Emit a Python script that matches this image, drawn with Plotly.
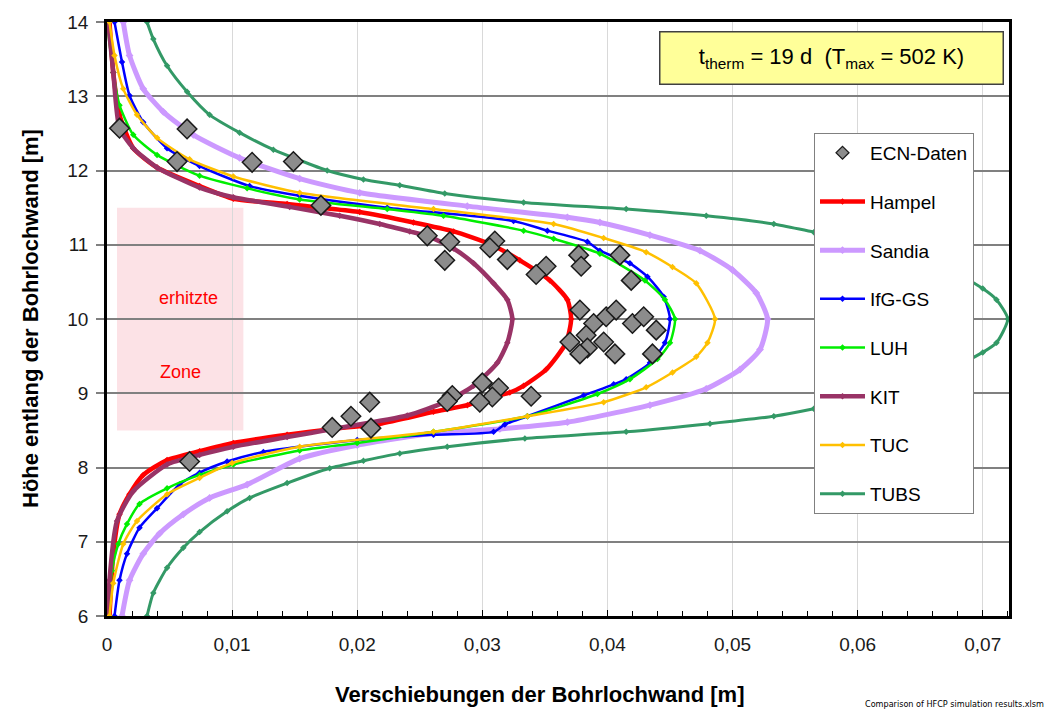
import plotly.graph_objects as go

# --- Verschiebungsprofile der Bohrlochwand (x in m, Höhe in m) ---
hampel_x = [0.0002, 0.0005, 0.0010, 0.0018, 0.0029, 0.0048, 0.0074, 0.0101, 0.0144, 0.0181,
            0.0218, 0.0261, 0.0288, 0.0301, 0.0322, 0.0333, 0.0351, 0.0367, 0.0371, 0.0368,
            0.0354, 0.0330, 0.0306, 0.0277, 0.0245, 0.0202, 0.0170, 0.0144, 0.0101, 0.0074,
            0.0040, 0.0021, 0.0010, 0.0005, 0.0002]
hampel_y = [6.00, 6.84, 7.37, 7.64, 7.90, 8.10, 8.22, 8.33, 8.44, 8.52,
            8.59, 8.75, 8.84, 8.92, 9.01, 9.10, 9.32, 9.68, 10.00, 10.26,
            10.52, 10.79, 11.01, 11.18, 11.30, 11.44, 11.50, 11.55, 11.62, 11.79,
            12.04, 12.30, 12.75, 13.32, 14.00]

sandia_x = [0.0012, 0.0018, 0.0029, 0.0042, 0.0061, 0.0082, 0.0112, 0.0154, 0.0200, 0.0261,
            0.0314, 0.0368, 0.0434, 0.0479, 0.0506, 0.0522, 0.0528, 0.0519, 0.0500, 0.0474,
            0.0434, 0.0394, 0.0368, 0.0288, 0.0202, 0.0154, 0.0106, 0.0069, 0.0045, 0.0029,
            0.0018, 0.0013]
sandia_y = [6.00, 6.48, 6.84, 7.11, 7.37, 7.59, 7.77, 8.12, 8.30, 8.46,
            8.52, 8.61, 8.84, 9.06, 9.32, 9.59, 10.00, 10.35, 10.66, 10.92,
            11.13, 11.30, 11.37, 11.52, 11.70, 11.89, 12.17, 12.48, 12.79, 13.10,
            13.55, 14.00]

ifg_x = [0.0006, 0.0010, 0.0016, 0.0026, 0.0040, 0.0058, 0.0074, 0.0096, 0.0125, 0.0200,
         0.0261, 0.0309, 0.0318, 0.0336, 0.0381, 0.0405, 0.0415, 0.0434, 0.0446, 0.0450,
         0.0445, 0.0432, 0.0418, 0.0394, 0.0384, 0.0352, 0.0325, 0.0224, 0.0154, 0.0114,
         0.0074, 0.0048, 0.0029, 0.0018, 0.0012, 0.0006]
ifg_y = [6.00, 6.48, 6.84, 7.19, 7.45, 7.77, 7.93, 8.08, 8.21, 8.37,
         8.44, 8.48, 8.58, 8.69, 8.97, 9.12, 9.19, 9.41, 9.68, 10.00,
         10.30, 10.57, 10.75, 10.92, 11.04, 11.19, 11.32, 11.50, 11.66, 11.79,
         12.06, 12.30, 12.65, 13.01, 13.46, 14.00]

luh_x = [0.0001, 0.0004, 0.0009, 0.0016, 0.0026, 0.0048, 0.0074, 0.0101, 0.0154, 0.0200,
         0.0261, 0.0336, 0.0392, 0.0418, 0.0440, 0.0450, 0.0454, 0.0446, 0.0430, 0.0394,
         0.0357, 0.0333, 0.0269, 0.0224, 0.0154, 0.0112, 0.0074, 0.0040, 0.0021, 0.0010,
         0.0005, 0.0000]
luh_y = [6.00, 6.61, 6.97, 7.24, 7.51, 7.72, 7.90, 8.04, 8.23, 8.33,
         8.48, 8.69, 8.99, 9.19, 9.46, 9.68, 10.00, 10.26, 10.52, 10.88,
         11.08, 11.19, 11.39, 11.48, 11.61, 11.76, 11.93, 12.21, 12.48, 12.88,
         13.32, 14.00]

kit_x = [0.0001, 0.0002, 0.0008, 0.0021, 0.0048, 0.0074, 0.0101, 0.0144, 0.0181, 0.0240,
         0.0270, 0.0293, 0.0312, 0.0320, 0.0324, 0.0320, 0.0309, 0.0293, 0.0277, 0.0256,
         0.0242, 0.0218, 0.0186, 0.0146, 0.0101, 0.0074, 0.0040, 0.0021, 0.0010, 0.0005,
         0.0001]
kit_y = [6.00, 6.48, 7.28, 7.68, 8.04, 8.17, 8.28, 8.41, 8.52, 8.70,
         8.88, 9.10, 9.41, 9.68, 10.00, 10.26, 10.48, 10.75, 10.95, 11.12,
         11.18, 11.28, 11.39, 11.51, 11.64, 11.77, 12.04, 12.30, 12.57, 13.32,
         14.00]

tuc_x = [0.0002, 0.0005, 0.0013, 0.0024, 0.0048, 0.0074, 0.0100, 0.0154, 0.0261, 0.0336,
         0.0397, 0.0431, 0.0452, 0.0471, 0.0480, 0.0486, 0.0471, 0.0452, 0.0431, 0.0397,
         0.0357, 0.0261, 0.0154, 0.0101, 0.0066, 0.0040, 0.0024, 0.0013, 0.0006, 0.0002]
tuc_y = [6.00, 6.44, 6.97, 7.28, 7.64, 7.86, 8.06, 8.28, 8.48, 8.69,
         8.88, 9.08, 9.28, 9.49, 9.68, 10.00, 10.48, 10.70, 10.90, 11.09,
         11.28, 11.48, 11.70, 11.92, 12.15, 12.44, 12.75, 13.10, 13.55, 14.00]

tubs_x = [0.0032, 0.0037, 0.0048, 0.0061, 0.0074, 0.0096, 0.0114, 0.0144, 0.0178, 0.0205,
          0.0234, 0.0272, 0.0334, 0.0415, 0.0482, 0.0533, 0.0565, 0.0620, 0.0665, 0.0700,
          0.0711, 0.0720, 0.0711, 0.0700, 0.0665, 0.0620, 0.0565, 0.0533, 0.0479, 0.0415,
          0.0333, 0.0270, 0.0234, 0.0205, 0.0176, 0.0133, 0.0106, 0.0082, 0.0064, 0.0048,
          0.0037, 0.0032]
tubs_y = [6.00, 6.31, 6.65, 6.92, 7.13, 7.41, 7.59, 7.79, 7.99, 8.09,
          8.19, 8.28, 8.39, 8.48, 8.59, 8.69, 8.79, 9.00, 9.25, 9.55,
          9.68, 10.00, 10.26, 10.41, 10.75, 11.00, 11.17, 11.28, 11.39, 11.48,
          11.57, 11.69, 11.80, 11.88, 12.00, 12.28, 12.51, 12.75, 13.06, 13.41,
          13.77, 14.00]

# ECN-Messdaten
ecn_x = [0.0010, 0.0064, 0.0056, 0.0116, 0.0149, 0.0171, 0.0256, 0.0274, 0.0270, 0.0310,
         0.0306, 0.0320, 0.0351, 0.0343, 0.0377, 0.0379, 0.0410, 0.0419, 0.0378, 0.0389,
         0.0399, 0.0407, 0.0420, 0.0429, 0.0439, 0.0383, 0.0370, 0.0397, 0.0384, 0.0378,
         0.0406, 0.0436, 0.0300, 0.0313, 0.0308, 0.0298, 0.0276, 0.0272, 0.0339, 0.0180,
         0.0195, 0.0210, 0.0211, 0.0066]
ecn_y = [12.57, 12.56, 12.12, 12.11, 12.12, 11.53, 11.12, 11.04, 10.79, 11.05,
         10.96, 10.80, 10.71, 10.60, 10.86, 10.71, 10.86, 10.52, 10.12, 9.94,
         10.03, 10.12, 9.94, 10.03, 9.85, 9.78, 9.69, 9.69, 9.61, 9.53,
         9.53, 9.53, 9.14, 9.07, 8.95, 8.88, 8.97, 8.89, 8.96, 8.54,
         8.69, 8.88, 8.53, 8.08]

x_ticks = [0, 0.01, 0.02, 0.03, 0.04, 0.05, 0.06, 0.07]
x_tick_labels = ["0", "0,01", "0,02", "0,03", "0,04", "0,05", "0,06", "0,07"]
y_ticks = [6, 7, 8, 9, 10, 11, 12, 13, 14]

series = [
    ("Hampel", hampel_x, hampel_y, "#FF0000", 4.5, 5),
    ("Sandia", sandia_x, sandia_y, "#CC99FF", 5, 6),
    ("IfG-GS", ifg_x, ifg_y, "#0000FF", 2.5, 5),
    ("LUH", luh_x, luh_y, "#00EE00", 2.5, 5),
    ("KIT", kit_x, kit_y, "#993366", 4.5, 5),
    ("TUC", tuc_x, tuc_y, "#FFC000", 2.5, 5),
    ("TUBS", tubs_x, tubs_y, "#339966", 3, 5),
]

FONT = "Liberation Sans, Arial, sans-serif"
ECN_FILL = "#8C8C8C"
ECN_EDGE = "#1A1A1A"

fig = go.Figure()

for rank, (name, xs, ys, color, lw, ms) in enumerate(series, start=2):
    fig.add_trace(go.Scatter(
        x=xs, y=ys, mode="lines+markers", name=name, legendgroup=name, legendrank=rank,
        line=dict(color=color, width=lw, shape="spline", smoothing=0.6),
        marker=dict(symbol="diamond", size=ms, color=color),
    ))

# ECN markers drawn on top of the curves
fig.add_trace(go.Scatter(
    x=ecn_x, y=ecn_y, mode="markers", name="ECN-Daten", legendgroup="ecn",
    showlegend=False,
    marker=dict(symbol="diamond", size=15, color=ECN_FILL, line=dict(color=ECN_EDGE, width=1.5)),
    cliponaxis=False,
))
# legend key for the ECN data with a smaller symbol
fig.add_trace(go.Scatter(
    x=[None], y=[None], mode="markers", name="ECN-Daten", legendgroup="ecn", legendrank=1,
    marker=dict(symbol="diamond", size=10, color=ECN_FILL, line=dict(color=ECN_EDGE, width=1.2)),
))

# heated zone
fig.add_shape(type="rect", xref="x", yref="y", x0=0.0008, x1=0.0109, y0=8.5, y1=11.5,
              fillcolor="rgba(248, 180, 188, 0.38)", line=dict(width=0), layer="below")
fig.add_annotation(x=0.0065, y=10.28, xref="x", yref="y", text="erhitzte", showarrow=False,
                   font=dict(family=FONT, size=18, color="#FF0000"))
fig.add_annotation(x=0.0059, y=9.28, xref="x", yref="y", text="Zone", showarrow=False,
                   font=dict(family=FONT, size=18, color="#FF0000"))

# condition box
fig.add_annotation(
    x=(831 - 107) / 902, y=(616 - 52.5) / 600, xref="paper", yref="paper",
    xanchor="center", yanchor="middle",
    text="t<sub>therm</sub> = 19 d  (T<sub>max</sub> = 502 K)", showarrow=False,
    font=dict(family=FONT, size=22, color="#000000"),
    bgcolor="#FFFF99", bordercolor="#404040", borderwidth=1.5,
    width=340, height=49, align="center", valign="middle",
)

# axis titles
fig.add_annotation(x=(540 - 107) / 902, y=(616 - 695) / 600, xref="paper", yref="paper",
                   xanchor="center", yanchor="middle",
                   text="<b>Verschiebungen der Bohrlochwand [m]</b>", showarrow=False,
                   font=dict(family=FONT, size=22, color="#000000"))
fig.add_annotation(x=(30 - 107) / 902, y=(616 - 316) / 600, xref="paper", yref="paper",
                   xanchor="center", yanchor="middle",
                   text="<b>Höhe entlang der Bohrlochwand [m]</b>", showarrow=False,
                   textangle=-90, font=dict(family=FONT, size=22, color="#000000"))
fig.add_annotation(x=(1046 - 107) / 902, y=(616 - 705) / 600, xref="paper", yref="paper",
                   xanchor="right", yanchor="middle",
                   text="Comparison of HFCP simulation results.xlsm", showarrow=False,
                   font=dict(family="Liberation Sans Narrow, DejaVu Sans Condensed, sans-serif",
                             size=9, color="#000000"))

fig.update_layout(
    width=1046, height=715,
    margin=dict(l=107, r=37, t=16, b=99),
    paper_bgcolor="white", plot_bgcolor="white",
    font=dict(family=FONT, color="#000000"),
    showlegend=True,
    legend=dict(
        x=(814 - 107) / 902, y=(616 - 128) / 600, xanchor="left", yanchor="top",
        bgcolor="white", bordercolor="#808080", borderwidth=1,
        font=dict(family=FONT, size=19, color="#000000"),
        tracegroupgap=21, traceorder="grouped", itemwidth=45,
    ),
    xaxis=dict(
        range=[0, 0.0721], tickvals=x_ticks, ticktext=x_tick_labels,
        showgrid=True, gridcolor="#D9D9D9", gridwidth=1,
        showline=True, mirror=True, linecolor="#000000", linewidth=2.5,
        ticks="inside", ticklen=6, tickcolor="#000000", tickwidth=1,
        minor=dict(dtick=0.002, tick0=0, ticks="inside", ticklen=5, tickcolor="#000000",
                   showgrid=False),
        tickfont=dict(family=FONT, size=19, color="#1A1A1A"),
        ticklabelstandoff=9, zeroline=False,
    ),
    yaxis=dict(
        range=[6, 14], tickvals=y_ticks,
        showgrid=True, gridcolor="#808080", gridwidth=1.5,
        showline=True, mirror=True, linecolor="#000000", linewidth=2.5,
        ticks="outside", ticklen=8, tickcolor="#808080", tickwidth=1.5,
        tickfont=dict(family=FONT, size=19, color="#1A1A1A"),
        ticklabelstandoff=4, zeroline=False,
    ),
)

fig.write_html("out.html")
